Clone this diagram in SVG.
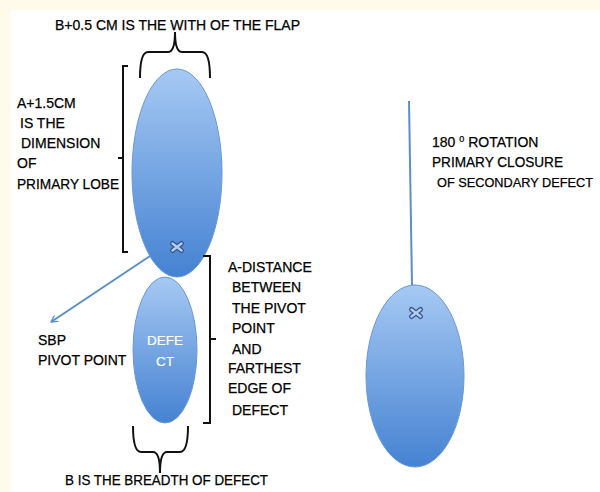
<svg xmlns="http://www.w3.org/2000/svg" width="600" height="492" viewBox="0 0 600 492">
<defs>
<linearGradient id="g" x1="0" y1="0" x2="0" y2="1">
<stop offset="0" stop-color="#a6c9f3"/>
<stop offset="1" stop-color="#4582d2"/>
</linearGradient>
<marker id="ah" viewBox="0 0 12 12" refX="10" refY="6" markerWidth="8" markerHeight="8" orient="auto" markerUnits="userSpaceOnUse">
<path d="M1,1 L10,6 L1,11" fill="none" stroke="#5b8fc9" stroke-width="2" stroke-linecap="round" stroke-linejoin="round"/>
</marker>
<g id="xm">
<path d="M-4.5,-3.5 L4.5,3.5 M-4.5,3.5 L4.5,-3.5" stroke="#36568a" stroke-width="5" stroke-linecap="round"/>
<path d="M-4.5,-3.5 L4.5,3.5 M-4.5,3.5 L4.5,-3.5" stroke="#b4cdee" stroke-width="2.4" stroke-linecap="round"/>
</g>
</defs>
<style>
.t{font-family:"Liberation Sans",Arial,sans-serif;font-size:14px;fill:#000;stroke:#000;stroke-width:0.25}
.w{font-family:"Liberation Sans",Arial,sans-serif;font-size:13.5px;fill:#fff;stroke:#fff;stroke-width:0.2}
.br{fill:none;stroke:#111;stroke-width:2}
.el{fill:url(#g);stroke:#6a98d4;stroke-width:1}
</style>
<rect width="600" height="492" fill="#fff"/>
<rect width="600" height="10" fill="#fffaea"/>
<rect width="11" height="492" fill="#fffaea"/>

<g id="primary-lobe">
<ellipse class="el" cx="177" cy="173" rx="45" ry="104"/>
<use href="#xm" x="177" y="247"/>
</g>
<g id="defect">
<ellipse class="el" cx="165" cy="350" rx="32" ry="73"/>
<text class="w" x="165" y="345" text-anchor="middle">DEFE</text>
<text class="w" x="165" y="366" text-anchor="middle">CT</text>
</g>
<g id="rotated-lobe">
<ellipse class="el" cx="415" cy="376" rx="49" ry="91"/>
<use href="#xm" x="416" y="313"/>
</g>

<g id="connectors">
<line x1="150" y1="256" x2="51" y2="322" stroke="#5b8fc9" stroke-width="2" marker-end="url(#ah)"/>
<line x1="409" y1="101" x2="412" y2="285" stroke="#5b8fc9" stroke-width="2"/>
</g>

<g id="brackets">
<path class="br" d="M140,78 Q140,52 148,52 L168,52 Q175,52 175,32 Q175,52 182,52 L202,52 Q210,52 210,78"/>
<path class="br" d="M128,66 L123,66 L123,158 L118,158 M123,158 L123,252 L128,252"/>
<path class="br" d="M203,256 L210,256 L210,339 L216,339 M210,339 L210,423 L203,423"/>
<path class="br" d="M133,426 Q133,452 141,452 L153,452 Q160,452 160,473 Q160,452 167,452 L180,452 Q188,452 188,426"/>
</g>

<g id="labels">
<text class="t" x="55" y="30" textLength="245" lengthAdjust="spacingAndGlyphs">B+0.5 CM IS THE WITH OF THE FLAP</text>
<text class="t" x="17" y="108">A+1.5CM</text>
<text class="t" x="20" y="128">IS THE</text>
<text class="t" x="21" y="148">DIMENSION</text>
<text class="t" x="17" y="168">OF</text>
<text class="t" x="17" y="189" textLength="102" lengthAdjust="spacingAndGlyphs">PRIMARY LOBE</text>
<text class="t" x="228" y="272">A-DISTANCE</text>
<text class="t" x="232" y="292">BETWEEN</text>
<text class="t" x="232" y="313">THE PIVOT</text>
<text class="t" x="232" y="333">POINT</text>
<text class="t" x="232" y="354">AND</text>
<text class="t" x="228" y="373">FARTHEST</text>
<text class="t" x="228" y="393">EDGE OF</text>
<text class="t" x="232" y="415">DEFECT</text>
<text class="t" x="38" y="345">SBP</text>
<text class="t" x="38" y="365">PIVOT POINT</text>
<text class="t" x="432" y="147">180 <tspan font-size="9" dy="-5">0</tspan><tspan dy="5"> ROTATION</tspan></text>
<text class="t" x="432" y="167" textLength="131" lengthAdjust="spacingAndGlyphs">PRIMARY CLOSURE</text>
<text class="t" x="437" y="187" font-size="13" style="font-size:13px" textLength="156" lengthAdjust="spacingAndGlyphs">OF SECONDARY DEFECT</text>
<text class="t" x="65" y="485" textLength="203" lengthAdjust="spacingAndGlyphs">B IS THE BREADTH OF DEFECT</text>
</g>
</svg>
